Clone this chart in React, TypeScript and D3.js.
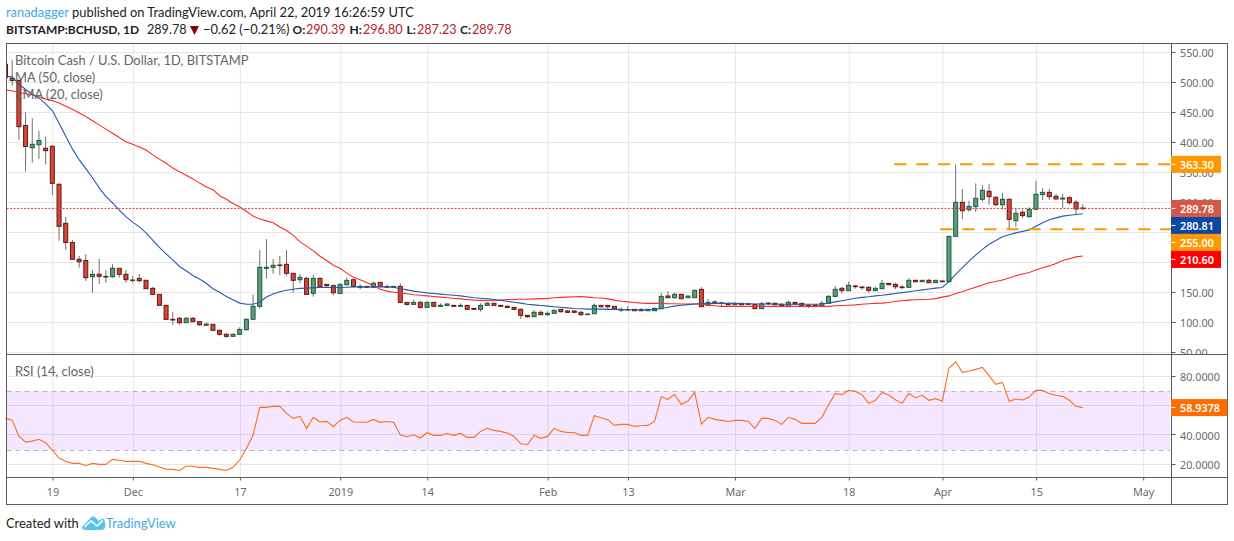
import * as d3 from 'd3';

const START = Date.UTC(2018, 10, 12);
const DAY = 864e5;

const opens = [
  530,506.6,503,428,391,396,390,393.3,330,265,
  233,205,203,176,180,176.5,176,190,180,169.9,
  173,170,156.6,146.6,128.2,104.9,106.6,99.4,106.6,101,
  95,96.6,86.6,80,76.6,80,87.7,105,126.6,190,
  191.6,195.5,196.6,181.6,171,173.2,148.2,173.2,163.2,161,
  148.2,162.7,171,158.2,159.9,158.2,166.6,159.5,158.2,159.9,
  133.2,129.9,133.2,124.9,133.2,126.6,128.2,128.2,126.6,128.2,
  123.2,121.6,128.2,131.6,128.2,126.6,124.9,121.6,111.6,109.3,
  116.6,112.7,114.9,121.6,118.8,118.8,116.6,113.2,114.3,128.2,
  128.2,126.6,120.1,121,121.6,121,119.3,119.3,122.7,143.8,
  141,146.6,141,141,154.9,128.2,133.8,132.4,131,129.3,
  131.6,131,129.9,122.7,132,131.6,129.9,126,133.2,131.6,
  128.2,128.8,127.2,131.6,143.2,156.6,152.7,160.5,158.8,158.2,
  152.7,156,164.9,163.2,158.9,158.3,170,167.7,170,166,
  168.9,167.7,243.3,300,287.7,292.8,305,318.3,308.3,296,
  305,269.4,283.3,276,288.3,312.8,316.6,310,305.5,307.7,
  300,290.39,
];
const highs = [
  540,537,505,450,440,419,409,395,331.6,275.5,
  237,210.5,213.8,187,205.5,187,197,190,187,177,
  180.5,170,158.8,146.6,129.3,117,108.8,108.8,108.8,101,
  99.4,96.6,88,81.5,81.6,91.6,106.6,146.6,220.5,238.8,
  205.5,210.5,220.5,181.6,180,176,178.8,175,163.2,163.2,
  165,175,173.2,163.2,159.9,168,166.6,163,159.9,164.9,
  133.2,138.2,135.5,135,133.2,131.6,132,128.8,131.6,128.8,
  123.2,131.6,133.8,132,128.2,128.2,125,123.2,111.6,120.5,
  120,118.2,121.6,122.7,120.5,120.5,118.8,114.9,131.6,128.2,
  129,126.6,124.9,127,121.6,123.8,121.6,125,148.8,152,
  149.3,146.6,143.8,154.9,158.8,138.8,137,134.4,134,133.8,
  131.6,131,129.9,133.8,133.8,133.2,131.6,136.6,133.2,132.7,
  130,128.8,135.5,145.5,160.5,159.4,167.7,162.7,160.5,160.5,
  159.4,170.5,164.9,166,162,173.3,170.5,170,172,170,
  168.9,243.3,363.3,322,302.7,331.6,328.9,330.5,310.5,315.5,
  306.6,289.4,287.7,291.6,335.5,323.9,322.8,313.9,313.9,310,
  303.9,296.8,
];
const lows = [
  505,494,404,351,366,372,363,312,236,220.5,
  205,191,168.8,149,163.8,166,174.4,174.4,166,166,
  166.6,156,145.5,128,104.4,96,96,98.8,100.5,94,
  94.5,85.5,78,74.3,75.5,79.5,86,104.5,122.7,172.7,
  181,178.8,177.7,149.4,165,145.5,142.7,158.2,157,145.5,
  147,161.5,158,155,157,156.6,158.2,156.6,157.7,131.6,
  127.7,128.8,122.7,123.8,126,125.5,126.5,125.5,126,121,
  120.5,117.7,127.7,127,125.5,123.8,119.9,106,107.5,108.8,
  111.5,111,114.3,116,115.5,115.5,110.5,112.7,113.8,125,
  120.5,121,117,120.5,118.8,118.8,119.3,118.8,122.2,140.5,
  139.3,138.8,141,140.5,125.5,127.2,130.5,127,128.8,128.8,
  128.8,129,122.2,122.2,129.3,128.8,126.6,125.5,129.5,126.6,
  123.8,126.5,126.6,131,142.7,147.7,152.2,156,154.3,148.8,
  152.2,155.5,162,155.5,155,158,166.5,167,165.5,165.5,
  167,167,243,272.2,283.9,283.9,301,296,293.9,288,
  255,258.9,273.9,275,288,303.9,303.9,305,291,296,
  280.5,287.23,
];
const closes = [
  508,503,426,393,396.6,403,386,331.6,260,233,
  205,201,174.4,180,176.6,176,190,180,171,170.5,
  169.4,156,146.6,128.2,104.9,104,99.4,106.6,101,96,
  97,86.6,80,76.6,80,88,105,126.6,191.6,191.6,
  195,194.5,181.6,169.9,175,146.6,173.2,159.3,161,149.3,
  163.2,169.9,159.9,159.9,158.2,165,159.9,159.3,159.9,133.2,
  129.9,133.2,124.9,133.2,126.6,128.2,130.5,126.6,128.2,121.6,
  121.6,128.2,131.6,128.2,126.6,124.9,121.6,111.6,109.3,116.6,
  112.7,114.9,119.9,117.7,116.6,116.6,112.7,113.8,128.2,126,
  126,121.6,121.1,121.3,119.3,119.3,121.6,123.2,143.2,141,
  146.6,139.3,143.8,153.2,126,133.2,131.6,132,129.3,131.6,
  129.3,129.9,122.7,131,131,129.3,127.7,133.2,130.5,127.2,
  127.2,127.2,131.6,143.2,154.9,152.7,161.6,159.4,157.7,153.2,
  156.6,164.9,162.7,159.3,158.4,170,167.7,170,166,170,
  167.7,243.3,300,286,293.3,306.6,320,309.4,296,305,
  271.6,281.6,277.8,288.3,313.3,316.6,309.4,305.5,307,299.4,
  288.9,289.78,
];

const ema20 = [
  510,509,497,488,480,473.5,464,453,432,410,
  389,371,356,341,324,310,299,287,276,267,
  259,249,237,225,214,204,193,186,178,172,
  165,156,150,143,137.5,132,130,130,134,142,
  147,151,153.5,155,156.6,157,157.5,158,158,158,
  158,158.5,159,159,159,159,159,159,158.5,156,
  154,152,150.5,149,148,147,146,145,144,142.5,
  141,140,139,138,136.5,135,133.5,132,130,129,
  128,127,126,125,124,123,122.5,122,122,122,
  121.5,121.5,121.5,121,121,121,121,121.5,123,125,
  127,128.5,129.5,130.5,131,131.5,131.5,131.5,131.5,131.5,
  131,131,130.5,130.5,130.5,130.5,130,130,130,130,
  130,130,130.5,132,134,136,138,140,141.5,142.5,
  144,145,146.5,148,149.5,151,152.5,154,155.5,157,
  158,167.7,180,191,202,212,221.5,230,236.5,242.5,
  246,249,251.5,254,260,266,271,274,277,278.5,
  279.7,280.81,
];
const ma50 = [
  487,486,483,481,479,476,472,469.5,465.5,460,
  455,449,443,436,429,422,415,408,401,396.6,
  392,387,379,372,365,357,351,345,339,332,
  326,321,311,305,298,292,285,277,272,269,
  266,259,253,245,234.4,227,219,210,203,195,
  190,182,175,171,166,161,155,152,150,149,
  147.5,146,145,144,143,142,141,140,139,138,
  137,136.5,136,136,137,138,138,138.5,138.5,139,
  139.5,139.5,141,141.5,142,142.5,143,142,141,140.5,
  139,137,135,134,133,132,131.5,131.5,131.5,131,
  131,130.5,130.5,130.5,130.5,129,127.5,126.5,126.5,126.5,
  126.5,126.5,126.5,126.5,126.5,126.5,126.5,126.5,126.5,126.5,
  126.5,126.5,126.5,126.5,127.5,128,128.5,129,130,131,
  131.5,132,133,135,136,137,137.5,138,138.5,139.5,
  142,144,148,151,155,158.5,162,166,168,170.5,
  174,177.7,180.5,183,187,191,194,198,203,206,
  209,210.6,
];
const rsi = [
  51.6,50.4,39.5,35.4,36.1,37.3,35,30,24.5,22.3,
  20.9,20.9,19.5,20.9,20.2,20.2,23.6,23,22.3,22.3,
  22.3,20.9,20,18.4,17,16.8,16.1,18.9,18.9,18.2,
  18.2,17.5,16.8,16.1,18.2,23.2,31.1,40.2,59.1,59.1,
  59.8,59.8,55,51.6,53,44.8,52.3,49.1,49.5,46.1,
  50.2,52.3,49.1,48.9,48.9,50.9,48.9,49.5,48.9,40.4,
  39.1,40.4,38.2,41.8,40,40,41.3,40,41.3,38.6,
  38.6,42.7,44.8,43.4,42.7,41.6,39.3,34.3,33.6,40,
  38,39.3,44.8,42.7,42,42,40,40,53.4,52,
  50.7,46.8,47.5,47.5,46.1,46.6,46.8,49.5,66.4,64.5,
  67.9,61.1,63.4,69.3,47.7,52.3,50.9,50.2,49.5,50.2,
  50.2,49.5,44.8,51.6,51.6,50.2,47.5,52.3,50.9,48.2,
  48.2,48.2,52.3,60.7,68.6,67.7,70.7,70,67.7,61.8,
  63.9,69.3,67.5,64.3,61.8,68.6,65.7,67.3,63.9,65,
  63.2,85.9,90.2,83,83.9,85,86.4,80.7,74.8,76.1,
  63.2,64.8,64.1,66.1,70.7,70.7,68.4,67.3,66.6,63.9,
  59.8,58.9378,
];

const priceTicks = [550, 500, 450, 400, 350, 300, 250, 200, 150, 100, 50];
const rsiTicks = [80, 60, 40, 20];
const timeTicks = ['2018-11-19', '2018-12-01', '2018-12-17', '2019-01-01', '2019-01-14', '2019-02-01', '2019-02-13', '2019-03-01', '2019-03-18', '2019-04-01', '2019-04-15', '2019-05-01'];
const timeLabels = ['19', 'Dec', '17', '2019', '14', 'Feb', '13', 'Mar', '18', 'Apr', '15', 'May'];

// last value tags, top to bottom
const tagValues = [363.3, 289.78, 280.81, 255, 210.6];
const tagColors = ['#ff9800', '#d4584a', '#0d47a1', '#ff9800', '#ff0000'];

const levels = [
  { price: 363.3, fromDay: 132.8 },
  { price: 255, fromDay: 139.7 },
];

const W = 1234;
const H = 541;
const left = 6.5;
const axisX = 1171.5;
const right = 1227.5;
const top = 43.5;
const paneEnd = 354.5;
const rsiEnd = 477.5;
const bottom = 504.5;

const FONT = '"Noto Sans", sans-serif';
const TEXT_FONT = 'Lato, sans-serif';
const TEXT_SIZE = 12.9;
const AXIS_SIZE = 10.8;
const BORDER = '#5a5a5a';
const GRID = '#e6e6e6';
const AXIS_TEXT = '#6a6a6a';
const UP = '#5b9d7c';
const UP_EDGE = '#1c5a3c';
const DOWN = '#d0493a';
const DOWN_EDGE = '#66160e';
const WICK = '#707070';

const x = d3.scaleUtc()
  .domain([new Date(START), new Date(START + 170 * DAY)])
  .range([5.5, 1143]);
const dayX = (i: number) => x(new Date(START + i * DAY));
const y = d3.scaleLinear().domain([100, 300]).range([322.3, 202.3]);
const yRsi = d3.scaleLinear().domain([20, 80]).range([464.7, 376.7]);

const priceLine = d3.line<number>().x((_, i) => dayX(i)).y(d => y(d));
const rsiLine = d3.line<number>().x((_, i) => dayX(i)).y(d => yRsi(d));

const fmt2 = d3.format('.2f');
const fmt4 = d3.format('.4f');

// tags get pushed down when they would overlap the one above
const tagCentres: number[] = [];
tagValues.forEach((v, i) => {
  const c = y(v);
  tagCentres.push(i > 0 && c < tagCentres[i - 1] + 17 ? tagCentres[i - 1] + 17 : c);
});

const headerPieces = [
  { t: 'O:', x: 292.5, bold: true, fill: '#222' },
  { t: '290.39', x: 306, fill: '#b5202a' },
  { t: 'H:', x: 349.5, bold: true, fill: '#222' },
  { t: '296.80', x: 363, fill: '#b5202a' },
  { t: 'L:', x: 406.5, bold: true, fill: '#222' },
  { t: '287.23', x: 417, fill: '#b5202a' },
  { t: 'C:', x: 460, bold: true, fill: '#222' },
  { t: '289.78', x: 472, fill: '#b5202a' },
];

export default function App() {
  return (
    <svg width={W} height={H} style={{ position: 'fixed', left: 0, top: 0, background: '#fff' }} fontFamily={FONT}>
      <defs>
        <clipPath id="pane"><rect x={left} y={top} width={axisX - left} height={paneEnd - top} /></clipPath>
        <clipPath id="paneAxis"><rect x={axisX} y={top} width={right - axisX} height={paneEnd - top} /></clipPath>
      </defs>

      <g fontFamily={TEXT_FONT}>
        <text x={6} y={17} fontSize={TEXT_SIZE} fill="#222">
          <tspan fill="#45a9e2">ranadagger</tspan> published on TradingView.com, April 22, 2019 16:26:59 UTC
        </text>
        <text x={6} y={34} fontSize={12} fontWeight={700} fill="#222">BITSTAMP:BCHUSD, 1D</text>
        <text x={147} y={34} fontSize={12.6} fill="#222">289.78</text>
        <path d="M190,26 L199,26 L194.5,35 Z" fill="#8b0000" />
        <text x={203} y={34} fontSize={TEXT_SIZE} fill="#222">−0.62 (−0.21%)</text>
        {headerPieces.map(p => (
          <text key={p.x} x={p.x} y={34} fontSize={p.bold ? 12 : 12.6} fontWeight={p.bold ? 700 : 400} fill={p.fill}>{p.t}</text>
        ))}
      </g>

      {/* grid */}
      {priceTicks.map(t => (
        <line key={t} x1={left} x2={axisX} y1={Math.floor(y(t)) + 0.5} y2={Math.floor(y(t)) + 0.5} stroke={GRID} clipPath="url(#pane)" />
      ))}
      {rsiTicks.map(t => (
        <line key={t} x1={left} x2={axisX} y1={Math.round(yRsi(t)) - 0.5} y2={Math.round(yRsi(t)) - 0.5} stroke={GRID} />
      ))}
      {timeTicks.map(d => {
        const gx = x(new Date(d + 'T00:00:00Z')) + 0.7;
        return (
          <g key={d}>
            <line x1={gx} x2={gx} y1={top} y2={paneEnd} stroke={GRID} />
            <line x1={gx} x2={gx} y1={paneEnd} y2={rsiEnd} stroke={GRID} />
            <line x1={gx} x2={gx} y1={rsiEnd} y2={rsiEnd + 3} stroke={BORDER} />
          </g>
        );
      })}

      {/* candles */}
      <g clipPath="url(#pane)">
        {opens.map((o, i) => {
          const c = closes[i];
          const cx = dayX(i);
          const up = c >= o;
          const yTop = y(Math.max(o, c));
          const yBot = y(Math.min(o, c));
          return (
            <g key={i}>
              <line x1={cx} x2={cx} y1={y(highs[i])} y2={y(lows[i])} stroke={WICK} strokeWidth={1} />
              <rect
                x={cx - 2}
                y={yTop}
                width={4}
                height={Math.max(yBot - yTop, 0.6)}
                fill={up ? UP : DOWN}
                stroke={up ? UP_EDGE : DOWN_EDGE}
                strokeWidth={1}
              />
            </g>
          );
        })}
        <path d={priceLine(ma50) ?? ''} fill="none" stroke="#ff2a2a" strokeWidth={1.1} />
        <path d={priceLine(ema20) ?? ''} fill="none" stroke="#2559ab" strokeWidth={1.1} />
        <line x1={left} x2={axisX} y1={y(closes[closes.length - 1])} y2={y(closes[closes.length - 1])} stroke="#e8392c" strokeDasharray="2 1.5" />
        {levels.map(l => (
          <line key={l.price} x1={dayX(l.fromDay)} x2={axisX} y1={y(l.price)} y2={y(l.price)} stroke="#ff9800" strokeWidth={2} strokeDasharray="12.3 9.7" />
        ))}
      </g>

      <g fontFamily={TEXT_FONT} fontSize={TEXT_SIZE} fill="#666">
        <text x={15} y={65}>Bitcoin Cash / U.S. Dollar, 1D, BITSTAMP</text>
        <text x={15} y={82}>MA (50, close)</text>
        <text x={15} y={99}>EMA (20, close)</text>
      </g>

      {/* rsi */}
      <rect x={left} y={yRsi(70)} width={1170 - left} height={yRsi(30) - yRsi(70)} fill="#9915ff" fillOpacity={0.1} />
      {[70, 30].map(v => (
        <line key={v} x1={left} x2={1170} y1={Math.round(yRsi(v)) + 0.5} y2={Math.round(yRsi(v)) + 0.5} stroke="#bfb0c4" strokeDasharray="5 4" />
      ))}
      <path d={rsiLine(rsi) ?? ''} fill="none" stroke="#ff6d1a" strokeWidth={1.1} />
      <text x={15} y={376} fontFamily={TEXT_FONT} fontSize={TEXT_SIZE} fill="#666">RSI (14, close)</text>

      {/* frame */}
      <rect x={left} y={top} width={right - left} height={bottom - top} fill="none" stroke={BORDER} />
      <line x1={left} x2={right} y1={paneEnd} y2={paneEnd} stroke={BORDER} />
      <line x1={left} x2={right} y1={rsiEnd} y2={rsiEnd} stroke={BORDER} />
      <line x1={axisX} x2={axisX} y1={top} y2={bottom} stroke={BORDER} />

      {/* axes */}
      <g clipPath="url(#paneAxis)">
        {priceTicks.map(t => (
          <g key={t}>
            <line x1={axisX} x2={axisX + 4} y1={Math.floor(y(t)) + 0.5} y2={Math.floor(y(t)) + 0.5} stroke={BORDER} />
            <text x={1180} y={y(t) + 4.5} fontSize={AXIS_SIZE} fill={AXIS_TEXT}>{fmt2(t)}</text>
          </g>
        ))}
      </g>
      {rsiTicks.map(t => (
        <g key={t}>
          <line x1={axisX} x2={axisX + 4} y1={Math.round(yRsi(t)) - 0.5} y2={Math.round(yRsi(t)) - 0.5} stroke={BORDER} />
          <text x={1180} y={yRsi(t) + 4.5} fontSize={AXIS_SIZE} fill={AXIS_TEXT}>{fmt4(t)}</text>
        </g>
      ))}
      {timeTicks.map((d, i) => (
        <text key={d} x={x(new Date(d + 'T00:00:00Z')) + 0.7} y={496} fontSize={AXIS_SIZE} fill={AXIS_TEXT} textAnchor="middle">{timeLabels[i]}</text>
      ))}

      {/* last value tags */}
      {tagValues.map((v, i) => (
        <g key={v}>
          <rect x={axisX - 0.5} y={tagCentres[i] - 8.5} width={50} height={17} fill={tagColors[i]} />
          <line x1={axisX} x2={axisX + 4} y1={tagCentres[i]} y2={tagCentres[i]} stroke="#fff" />
          <text x={1180} y={tagCentres[i] + 4.5} fontSize={AXIS_SIZE} fontWeight={600} fill="#fff">{fmt2(v)}</text>
        </g>
      ))}
      <rect x={axisX - 0.5} y={yRsi(58.9378) - 8.5} width={right - axisX + 0.5} height={17} fill="#ff6d00" />
      <line x1={axisX} x2={axisX + 4} y1={yRsi(58.9378)} y2={yRsi(58.9378)} stroke="#fff" />
      <text x={1180} y={yRsi(58.9378) + 4.5} fontSize={AXIS_SIZE} fontWeight={600} fill="#fff">{fmt4(58.9378)}</text>

      {/* footer */}
      <text x={6} y={528} fontFamily={TEXT_FONT} fontSize={TEXT_SIZE} fill="#222">Created with</text>
      <path d="M82,527 L91,517.5 Q93,515.5 95.5,517.5 L99,521 L101,519.5 Q103,518 104.5,520 L105.5,526 Q105,530 101,530 L86,530 Q82,530 82,527 Z" fill="#5bc0ea" />
      <path d="M84.5,527 L91,521 L97,526 L103,520.5" fill="none" stroke="#fff" strokeWidth={1.6} />
      <text x={106} y={528} fontFamily={TEXT_FONT} fontSize={TEXT_SIZE} fill="#45a9e2">TradingView</text>
    </svg>
  );
}
